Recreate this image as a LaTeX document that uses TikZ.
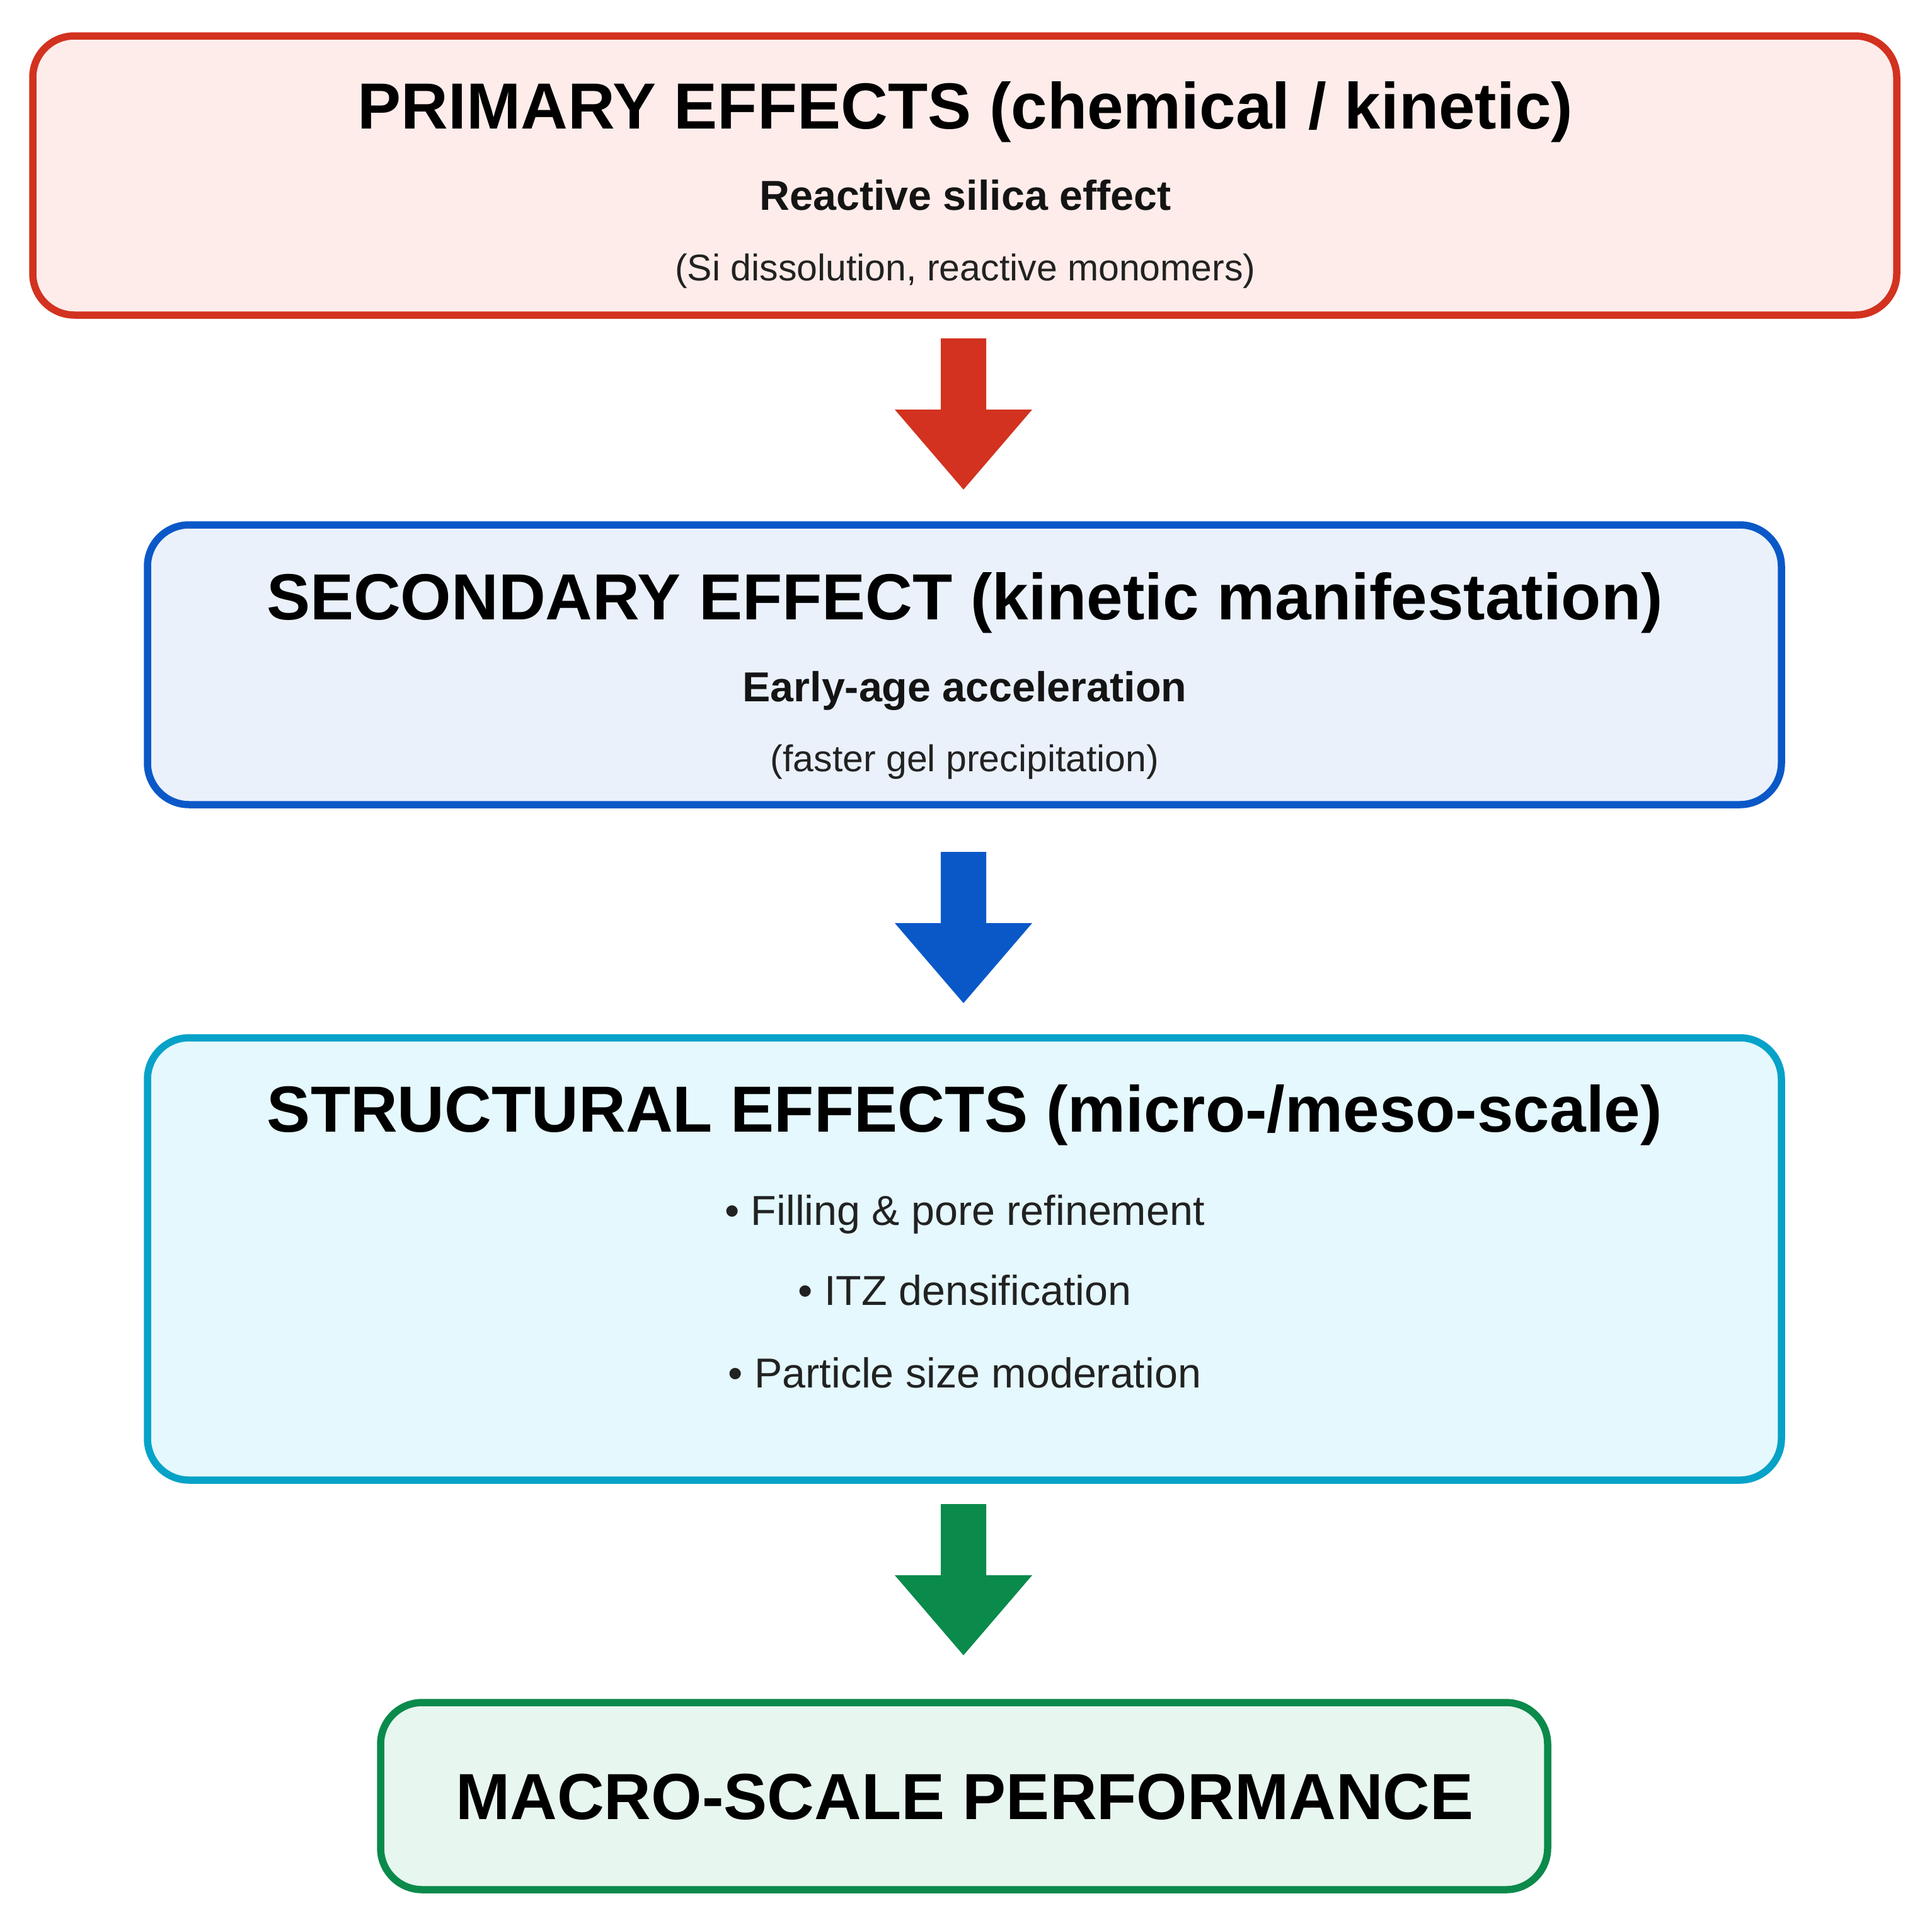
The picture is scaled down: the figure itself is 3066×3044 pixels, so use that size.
\documentclass[tikz,border=0pt]{standalone}
\usepackage{fontspec}
\setmainfont{Liberation Sans}
\usetikzlibrary{calc}
\definecolor{redline}{HTML}{D2321F}
\definecolor{redfill}{HTML}{FDECEA}
\definecolor{blueline}{HTML}{0A58C8}
\definecolor{bluefill}{HTML}{EAF1FB}
\definecolor{cyanline}{HTML}{06A2C8}
\definecolor{cyanfill}{HTML}{E4F8FD}
\definecolor{greenline}{HTML}{0A8A4B}
\definecolor{greenfill}{HTML}{E7F6EE}
\definecolor{txtgray}{HTML}{222222}
\newcommand{\blockarrow}[2]{\fill[#1] ($(#2)+(-36,0)$) -- ++(72,0) -- ++(0,113) -- ++(73,0) -- ++(-109,127) -- ++(-109,-127) -- ++(73,0) -- cycle;}
\tikzset{
  box/.style={draw, line width=11.5pt, rounded corners=66pt, inner sep=0pt, outer sep=0pt},
  ttl/.style={font=\fontsize{103.5}{124}\selectfont\bfseries, anchor=base, text=black, inner sep=0pt},
  subttl/.style={font=\fontsize{66.4}{80}\selectfont\bfseries, anchor=base, text=black!92, inner sep=0pt},
  note/.style={font=\fontsize{59}{71}\selectfont, anchor=base, text=txtgray, inner sep=0pt},
  bul/.style={font=\fontsize{66.4}{80}\selectfont, anchor=base, text=txtgray, inner sep=0pt}
}
\begin{document}
\begin{tikzpicture}[x=1pt,y=-1pt]
\useasboundingbox (0,0) rectangle (3066,3044);
% boxes
\node[box, draw=redline, fill=redfill, minimum width=2958pt, minimum height=443pt] (p) at (1531,278.5) {};
\node[box, draw=blueline, fill=bluefill, minimum width=2593pt, minimum height=444pt] (s) at (1530.5,1055) {};
\node[box, draw=cyanline, fill=cyanfill, minimum width=2593pt, minimum height=702pt] (t) at (1530.5,1998) {};
\node[box, draw=greenline, fill=greenfill, minimum width=1852pt, minimum height=297pt] (m) at (1530,2850.5) {};
% texts
\node[ttl] (pt) at (1532,204) {PRIMARY EFFECTS (chemical / kinetic)};
\node[subttl] (ps) at (1532,333) {Reactive silica effect};
\node[note] (pn) at (1532,445) {(Si dissolution, reactive monomers)};
\node[ttl] (st) at (1531,983) {SECONDARY EFFECT (kinetic manifestation)};
\node[subttl] (ss) at (1531,1113) {Early-age acceleration};
\node[note] (sn) at (1531,1224) {(faster gel precipitation)};
\node[ttl] (tt) at (1531,1796) {STRUCTURAL EFFECTS (micro-/meso-scale)};
\node[bul] (tb1) at (1531,1944) {• Filling \& pore refinement};
\node[bul] (tb2) at (1531,2071) {• ITZ densification};
\node[bul] (tb3) at (1531,2202) {• Particle size moderation};
\node[ttl] (mt) at (1531,2887) {MACRO-SCALE PERFORMANCE};
% arrows
\coordinate (a1) at ($(p.south)+(-2,37)$);
\coordinate (a2) at ($(s.south)+(-1.5,75)$);
\coordinate (a3) at ($(t.south)+(-1.5,38)$);
\blockarrow{redline}{a1}
\blockarrow{blueline}{a2}
\blockarrow{greenline}{a3}
\end{tikzpicture}
\end{document}
